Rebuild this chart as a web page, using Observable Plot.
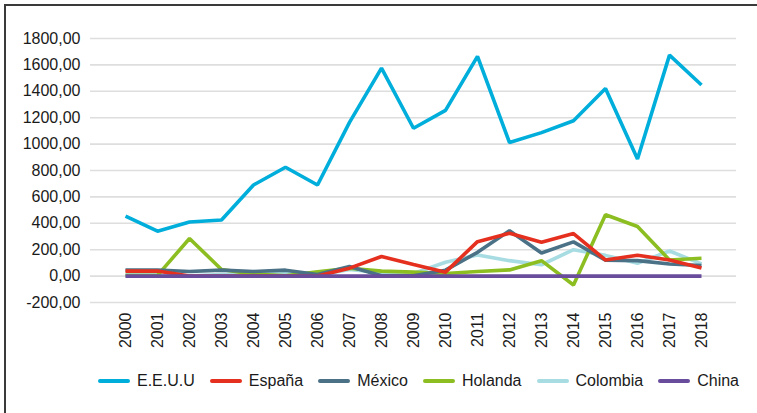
<!DOCTYPE html>
<html><head><meta charset="utf-8">
<script src="https://cdn.jsdelivr.net/npm/d3@7"></script>
<script src="https://cdn.jsdelivr.net/npm/@observablehq/plot@0.6"></script>
<style>
body{margin:0;background:#fff;font-family:"Liberation Sans",Arial,sans-serif;}
#wrap{position:relative;width:757px;height:413px;overflow:hidden;background:#fff;}
#frame{position:absolute;left:4px;top:4px;width:780px;height:440px;border-left:2px solid #3a3a3a;border-top:2px solid #3a3a3a;}
#chart{position:absolute;left:0;top:0;}
#legend{position:absolute;left:98px;top:372px;width:641px;display:flex;justify-content:space-between;align-items:center;font-size:16px;color:#1a1a1a;line-height:18px;}
.item{display:flex;align-items:center;}
.sw{width:32px;height:4px;border-radius:2px;margin-right:7px;}
</style></head><body>
<div id="wrap"><div id="frame"></div><div id="chart"></div><div id="legend"></div></div>
<script>
const years = [2000,2001,2002,2003,2004,2005,2006,2007,2008,2009,2010,2011,2012,2013,2014,2015,2016,2017,2018];
const yTicks = [-200,0,200,400,600,800,1000,1200,1400,1600,1800];

const seriesNames = ["E.E.U.U","España","México","Holanda","Colombia","China"];
const seriesColors = ["#00AEDB","#E5301F","#4A7186","#8CBE22","#A7DCE3","#6A4C9C"];

const eeuu     = [455, 340, 410, 425, 690, 825, 690, 1165, 1575, 1120, 1255, 1665, 1012, 1087, 1177, 1422, 887, 1674, 1448];
const espana   = [38, 38, 0, 0, 0, 0, 0, 60, 148, 88, 30, 261, 324, 256, 322, 122, 158, 122, 62];
const mexico   = [45, 45, 35, 45, 35, 45, 12, 72, 2, 2, 45, 180, 344, 175, 259, 120, 117, 92, 80];
const holanda  = [5, 5, 285, 50, 15, 3, 32, 60, 38, 30, 20, 35, 47, 117, -67, 465, 376, 122, 135];
const colombia = [10, 10, 3, 12, 18, 22, 5, 50, 25, 20, 105, 160, 117, 86, 200, 157, 97, 190, 93];
const china    = [0, 0, 0, 0, 0, 0, 0, 0, 0, 0, 0, 0, 0, 0, 0, 0, 0, 0, 0];

const seriesValues = {"E.E.U.U": eeuu, "España": espana, "México": mexico, "Holanda": holanda, "Colombia": colombia, "China": china};
const drawOrder = ["Colombia","Holanda","México","España","China","E.E.U.U"];

const rows = [];
for (const name of drawOrder) {
  seriesValues[name].forEach((v, i) => rows.push({series: name, year: years[i], value: v}));
}

const fmt = d => d.toFixed(2).replace(".", ",");

const chart = Plot.plot({
  width: 757, height: 360,
  marginLeft: 90, marginRight: 21, marginTop: 38, marginBottom: 58,
  style: {fontFamily: "'Liberation Sans', Arial, sans-serif", fontSize: "16px", color: "#1a1a1a", background: "transparent"},
  x: {type: "point", domain: years, range: [107, 719]},
  y: {domain: [-200, 1800]},
  color: {domain: seriesNames, range: seriesColors},
  marks: [
    Plot.ruleY(yTicks, {stroke: "#dedede", strokeWidth: 1.6}),
    Plot.axisY(yTicks, {tickSize: 0, tickPadding: 10, tickFormat: fmt, label: null}),
    Plot.axisX(years, {tickSize: 0, tickPadding: 10, tickRotate: -90, tickFormat: d => String(d), label: null}),
    Plot.lineY(rows, {x: "year", y: "value", z: "series", stroke: "series", strokeWidth: 3.6, strokeLinejoin: "miter", strokeLinecap: "butt"})
  ]
});
document.getElementById("chart").appendChild(chart);

const legend = document.getElementById("legend");
seriesNames.forEach((name, i) => {
  const item = document.createElement("div");
  item.className = "item";
  const sw = document.createElement("div");
  sw.className = "sw";
  sw.style.background = seriesColors[i];
  const t = document.createElement("span");
  t.textContent = name;
  item.appendChild(sw); item.appendChild(t);
  legend.appendChild(item);
});
</script>
</body></html>
